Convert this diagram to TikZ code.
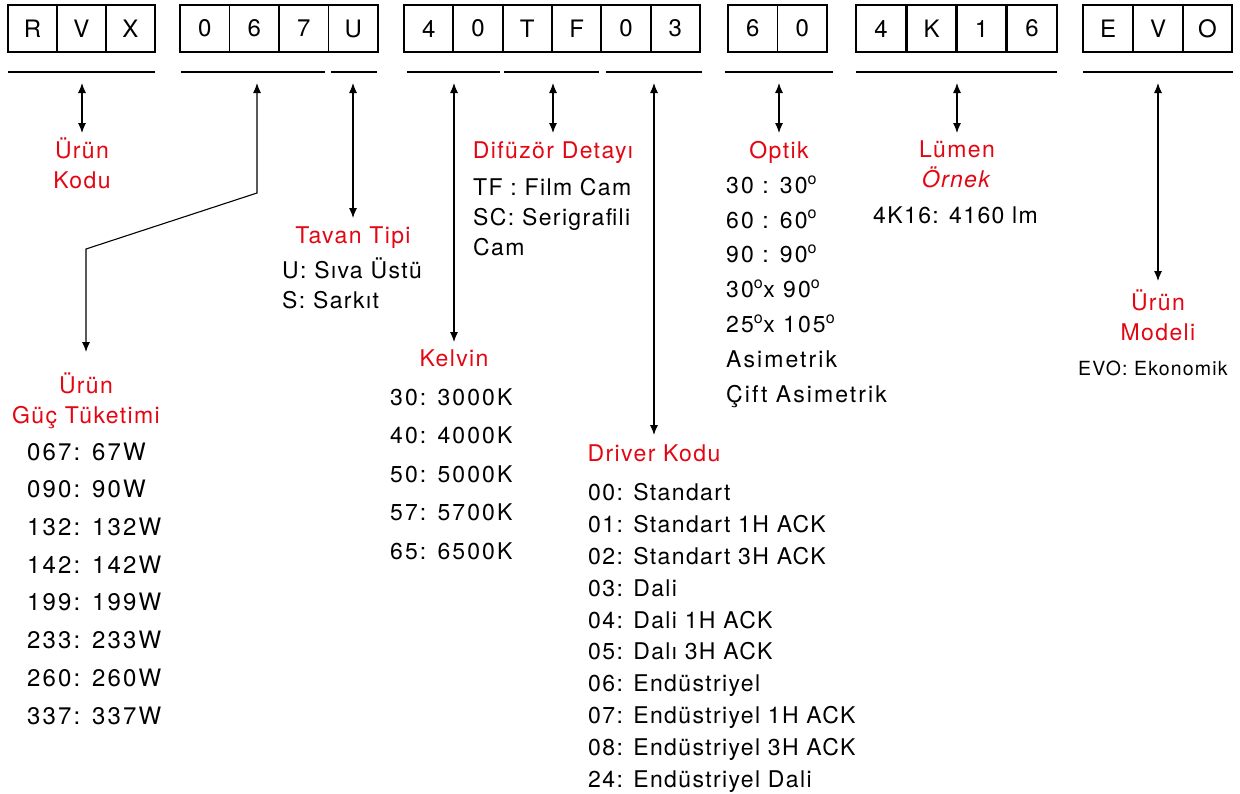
\documentclass[tikz,border=0pt]{standalone}
\usepackage{fontspec}
\setmainfont{TeX Gyre Heros}[LetterSpace=6]
\newfontfamily\midfont{TeX Gyre Heros}[LetterSpace=9]
\usetikzlibrary{arrows.meta}
\definecolor{kodred}{RGB}{227,6,19}
\newcommand{\dg}{\textsuperscript{o}}

\begin{document}
\begin{tikzpicture}[
  x=1pt, y=-1pt,
  cell/.style={
    draw, line width=1.8pt,
    minimum width=49.5pt, minimum height=47pt,
    inner sep=0pt, outer sep=0pt,
    font=\fontsize{24}{28}\selectfont
  },
  uline/.style={line width=1.8pt},
  arr/.style={{Latex[length=10pt,width=8pt]}-{Latex[length=10pt,width=8pt]}, line width=1.1pt},
  ttl/.style={
    text=kodred, align=center, anchor=north,
    inner xsep=0pt, inner ysep=8pt,
    font=\fontsize{23}{30}\selectfont
  },
  % lists are placed at the baseline of their last line
  lst/.style={align=left, anchor=base west, inner sep=0pt},
]
\useasboundingbox (0,0) rectangle (1240,793);

% code boxes
\node[cell] (c1)  at (32.5,28.5)   {R};
\node[cell] (c2)  at (81.5,28.5)   {V};
\node[cell] (c3)  at (130.5,28.5)  {X};
\node[cell] (c4)  at (204.75,28.5) {0};
\node[cell] (c5)  at (254.25,28.5) {6};
\node[cell] (c6)  at (303.75,28.5) {7};
\node[cell] (c7)  at (353.25,28.5) {U};
\node[cell] (c8)  at (428.7,28.5)  {4};
\node[cell] (c9)  at (478,28.5)    {0};
\node[cell] (c10) at (527.3,28.5)  {T};
\node[cell] (c11) at (576.7,28.5)  {F};
\node[cell] (c12) at (626,28.5)    {0};
\node[cell] (c13) at (675.3,28.5)  {3};
\node[cell] (c14) at (752.75,28.5) {6};
\node[cell] (c15) at (802.25,28.5) {0};
\node[cell] (c16) at (881,28.5)    {4};
\node[cell] (c17) at (931.5,28.5)  {K};
\node[cell] (c18) at (981.5,28.5)  {1};
\node[cell] (c19) at (1032,28.5)   {6};
\node[cell] (c20) at (1108,28.5)   {E};
\node[cell] (c21) at (1158,28.5)   {V};
\node[cell] (c22) at (1207.5,28.5) {O};

% underlines
\draw[uline] (8,72)    -- (155,72);
\draw[uline] (181,72)  -- (325,72);
\draw[uline] (331,72)  -- (377,72);
\draw[uline] (407,72)  -- (500,72);
\draw[uline] (504,72)  -- (599,72);
\draw[uline] (606,72)  -- (702,72);
\draw[uline] (725,72)  -- (833,72);
\draw[uline] (856,72)  -- (1057,72);
\draw[uline] (1083,72) -- (1233,72);

% titles
\node[ttl, inner ysep=5pt]  (kodu)   at (82,133)   {Ürün\\Kodu};
\node[ttl, inner ysep=21pt] (guc)    at (86,352)   {Ürün\\Güç Tüketimi};
\node[ttl, inner ysep=9pt]  (tavan)  at (353,218)  {Tavan Tipi};
\node[ttl]                  (kelvin) at (454,342)  {Kelvin};
\node[ttl]                  (difuz)  at (553,133)  {Difüzör Detayı};
\node[ttl, inner ysep=10pt] (driver) at (654,435)  {Driver Kodu};
\node[ttl]                  (optik)  at (779,133)  {Optik};
\node[ttl]                  (lumen)  at (957,133)  {Lümen\\\textit{Örnek}};
\node[ttl, inner ysep=9pt]  (modeli) at (1158,281) {Ürün\\Modeli};

% arrow tops
\coordinate (tkodu)   at (82,83);
\coordinate (tguc)    at (257,83);
\coordinate (ttavan)  at (353,83);
\coordinate (tkelvin) at (454,83);
\coordinate (tdifuz)  at (553,83);
\coordinate (tdriver) at (654,83);
\coordinate (toptik)  at (779,83);
\coordinate (tlumen)  at (957,83);
\coordinate (tmodeli) at (1158,83);
\coordinate (b1) at (257,193);
\coordinate (b2) at (86,249);

\draw[arr] (tkodu)   -- (kodu.north);
\draw[arr] (tguc) -- (b1) -- (b2) -- (guc.north);
\draw[arr] (ttavan)  -- (tavan.north);
\draw[arr] (tkelvin) -- (kelvin.north);
\draw[arr] (tdifuz)  -- (difuz.north);
\draw[arr] (tdriver) -- (driver.north);
\draw[arr] (toptik)  -- (optik.north);
\draw[arr] (tlumen)  -- (lumen.north);
\draw[arr] (tmodeli) -- (modeli.north);

% value lists
\node[lst, font=\midfont\fontsize{24}{37.7}\selectfont] (gucl) at (27,724)
  {067: 67W\\090: 90W\\132: 132W\\142: 142W\\199: 199W\\233: 233W\\260: 260W\\337: 337W};
\node[lst, font=\fontsize{23}{30}\selectfont] (tavanl) at (282,308)
  {U: Sıva Üstü\\S: Sarkıt};
\node[lst, font=\midfont\fontsize{23}{38.5}\selectfont] (kelvinl) at (390,559)
  {30: 3000K\\40: 4000K\\50: 5000K\\57: 5700K\\65: 6500K};
\node[lst, font=\fontsize{23}{30}\selectfont] (difuzl) at (473,255)
  {TF : Film Cam\\SC: Serigrafili\\Cam};
\node[lst, font=\fontsize{23}{31.8}\selectfont] (driverl) at (588,787)
  {00: Standart\\01: Standart 1H ACK\\02: Standart 3H ACK\\03: Dali\\04: Dali 1H ACK\\05: Dalı 3H ACK\\06: Endüstriyel\\07: Endüstriyel 1H ACK\\08: Endüstriyel 3H ACK\\24: Endüstriyel Dali};
\node[lst, font=\midfont\fontsize{23}{34.8}\selectfont] (optikl) at (726,402)
  {30 : 30\dg\\60 : 60\dg\\90 : 90\dg\\30\dg x 90\dg\\25\dg x 105\dg\\Asimetrik\\Çift Asimetrik};
\node[lst, font=\fontsize{23}{30}\selectfont] (lumenl) at (873,223)
  {4K16: 4160 lm};
\node[lst, font=\fontsize{19.5}{24}\selectfont] (modelil) at (1078,375)
  {EVO: Ekonomik};

\end{tikzpicture}
\end{document}
